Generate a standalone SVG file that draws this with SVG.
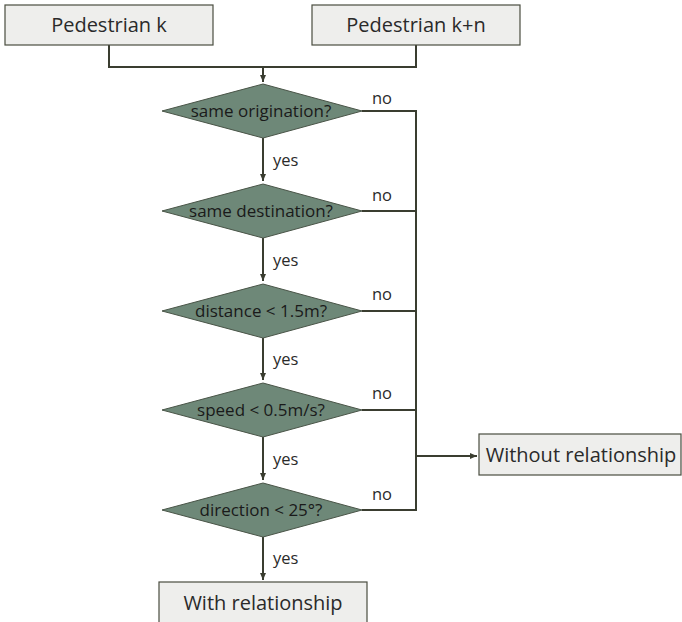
<svg xmlns="http://www.w3.org/2000/svg" width="682" height="622" viewBox="0 0 682 622">
<defs>
<marker id="arr" markerWidth="8" markerHeight="8" refX="7" refY="4" orient="auto" markerUnits="userSpaceOnUse"><path d="M0,1 L7,4 L0,7 z" fill="#3a3d30"/></marker>
<style>
.box{fill:#eeeeec;stroke:#4a4d40;stroke-width:1.2}
.dia{fill:#6e8878;stroke:#4a5548;stroke-width:1}
.ln{fill:none;stroke:#3a3d30;stroke-width:2}
.bt{font-family:"Open Sans","Noto Sans",sans-serif;font-size:20px;fill:#2a2a2a;text-anchor:middle}
.dt{font-family:"Open Sans","Noto Sans",sans-serif;font-size:17px;fill:#1a1a1a;text-anchor:middle}
.lb{font-family:"Open Sans","Noto Sans",sans-serif;font-size:16.5px;fill:#2a2a2a}
</style>
</defs>
<rect width="682" height="622" fill="#fff"/>
<g id="connectors">
<path class="ln" d="M109,45 V67 H416 V45"/>
<path class="ln" d="M263,67 V82" marker-end="url(#arr)"/>
<path class="ln" d="M263,138 V181" marker-end="url(#arr)"/>
<path class="ln" d="M263,238 V281" marker-end="url(#arr)"/>
<path class="ln" d="M263,338 V380" marker-end="url(#arr)"/>
<path class="ln" d="M263,437 V480" marker-end="url(#arr)"/>
<path class="ln" d="M263,537 V580" marker-end="url(#arr)"/>
<path class="ln" d="M362,111 H416 V510 H362"/>
<path class="ln" d="M362,211 H416"/>
<path class="ln" d="M362,311 H416"/>
<path class="ln" d="M362,410 H416"/>
<path class="ln" d="M416,456 H477" marker-end="url(#arr)"/>
<text class="lb" x="372" y="104">no</text>
<text class="lb" x="372" y="201">no</text>
<text class="lb" x="372" y="300">no</text>
<text class="lb" x="372" y="399">no</text>
<text class="lb" x="372" y="500">no</text>
<text class="lb" x="273" y="166">yes</text>
<text class="lb" x="273" y="266">yes</text>
<text class="lb" x="273" y="365">yes</text>
<text class="lb" x="273" y="465">yes</text>
<text class="lb" x="273" y="564">yes</text>
</g>
<g id="pedK"><rect class="box" x="5" y="5" width="208" height="40"/><text class="bt" x="109" y="32">Pedestrian k</text></g>
<g id="pedKn"><rect class="box" x="312" y="5" width="208" height="40"/><text class="bt" x="416" y="32">Pedestrian k+n</text></g>
<g id="d1"><polygon class="dia" points="263,84 362,111 263,138 162,111"/><text class="dt" x="261" y="117">same origination?</text></g>
<g id="d2"><polygon class="dia" points="263,184 362,211 263,238 162,211"/><text class="dt" x="261" y="217">same destination?</text></g>
<g id="d3"><polygon class="dia" points="263,284 362,311 263,338 162,311"/><text class="dt" x="261" y="317">distance &lt; 1.5m?</text></g>
<g id="d4"><polygon class="dia" points="263,383 362,410 263,437 162,410"/><text class="dt" x="261" y="416">speed &lt; 0.5m/s?</text></g>
<g id="d5"><polygon class="dia" points="263,483 362,510 263,537 162,510"/><text class="dt" x="261" y="516">direction &lt; 25°?</text></g>
<g id="without"><rect class="box" x="479" y="434" width="202" height="41"/><text class="bt" x="581" y="462">Without relationship</text></g>
<g id="with"><rect class="box" x="159" y="582" width="208" height="44"/><text class="bt" x="263" y="610">With relationship</text></g>
</svg>
